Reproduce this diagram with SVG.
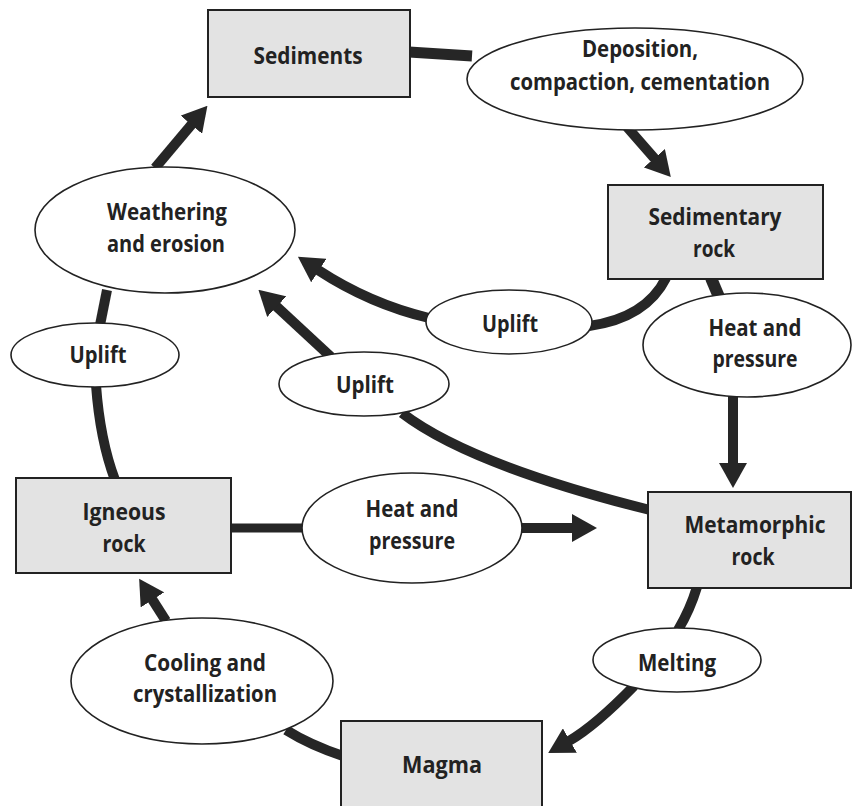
<svg xmlns="http://www.w3.org/2000/svg" width="852" height="806" viewBox="0 0 852 806">
<style>
.box{fill:#e3e3e3;stroke:#222;stroke-width:2}
.ell{fill:#fff;stroke:#222;stroke-width:1.6}
.t{font-family:"Open Sans","Noto Sans","Liberation Sans",sans-serif;font-weight:700;font-size:23px;fill:#222;text-anchor:middle}
.c{fill:none;stroke:#262626;stroke-width:10}
.a{fill:none;stroke:#262626;stroke-width:10;marker-end:url(#ah)}
</style>
<defs>
<marker id="ah" markerUnits="userSpaceOnUse" viewBox="0 0 25 28" markerWidth="25" markerHeight="28" refX="1" refY="14" orient="auto">
<path d="M0,0 L25,14 L0,28 Z" fill="#262626"/>
</marker>
</defs>
<rect width="852" height="806" fill="#fff"/>
<g id="connectors">
<path class="c" d="M409,52 L472,56" style="stroke-width:11"/>
<path class="a" d="M627,127 L655,159"/>
<path class="c" d="M666,278 Q646,318 589,326"/>
<path class="a" d="M429,318 Q370,304 318,270"/>
<path class="c" d="M711,278 L719,297" style="stroke-width:12"/>
<path class="a" d="M733,396 L733,464"/>
<path class="a" d="M155,168 L192,124"/>
<path class="c" d="M107,290 L100,325"/>
<path class="c" d="M96,385 Q100,440 115,480"/>
<path class="a" d="M331,357 L276,306"/>
<path class="c" d="M402,413 Q470,465 650,510"/>
<path class="c" d="M230,528 L304,528" style="stroke-width:9"/>
<path class="a" d="M520,528 L573,528"/>
<path class="c" d="M697,587 Q690,610 678,630"/>
<path class="a" d="M634,686 Q595,726 569,741"/>
<path class="c" d="M286,730 Q310,745 343,756"/>
<path class="a" d="M166,621 L152,599"/>
</g>
<g id="sediments">
<rect class="box" x="208" y="10" width="202" height="87"/>
<text class="t" x="308" y="64" textLength="109" lengthAdjust="spacingAndGlyphs">Sediments</text>
</g>
<g id="deposition">
<ellipse class="ell" cx="635" cy="79" rx="168" ry="51"/>
<text class="t"><tspan x="640" y="57" textLength="116" lengthAdjust="spacingAndGlyphs">Deposition,</tspan><tspan x="640" y="90" textLength="260" lengthAdjust="spacingAndGlyphs">compaction, cementation</tspan></text>
</g>
<g id="sedimentary-rock">
<rect class="box" x="608" y="185" width="215" height="94"/>
<text class="t"><tspan x="715" y="225" textLength="133" lengthAdjust="spacingAndGlyphs">Sedimentary</tspan><tspan x="714" y="257" textLength="42" lengthAdjust="spacingAndGlyphs">rock</tspan></text>
</g>
<g id="uplift-right">
<ellipse class="ell" cx="509" cy="322" rx="83" ry="32"/>
<text class="t" x="510" y="332" textLength="56" lengthAdjust="spacingAndGlyphs">Uplift</text>
</g>
<g id="heat-pressure-right">
<ellipse class="ell" cx="747" cy="345" rx="104" ry="52"/>
<text class="t"><tspan x="755" y="336" textLength="93" lengthAdjust="spacingAndGlyphs">Heat and</tspan><tspan x="755" y="367" textLength="85" lengthAdjust="spacingAndGlyphs">pressure</tspan></text>
</g>
<g id="weathering">
<ellipse class="ell" cx="165" cy="230" rx="130" ry="63"/>
<text class="t"><tspan x="167" y="220" textLength="120" lengthAdjust="spacingAndGlyphs">Weathering</tspan><tspan x="166" y="252" textLength="118" lengthAdjust="spacingAndGlyphs">and erosion</tspan></text>
</g>
<g id="uplift-left">
<ellipse class="ell" cx="95" cy="355" rx="84" ry="32"/>
<text class="t" x="98" y="363" textLength="57" lengthAdjust="spacingAndGlyphs">Uplift</text>
</g>
<g id="uplift-middle">
<ellipse class="ell" cx="364" cy="384" rx="85" ry="32"/>
<text class="t" x="365" y="393" textLength="58" lengthAdjust="spacingAndGlyphs">Uplift</text>
</g>
<g id="igneous-rock">
<rect class="box" x="16" y="478" width="215" height="95"/>
<text class="t"><tspan x="124" y="520" textLength="83" lengthAdjust="spacingAndGlyphs">Igneous</tspan><tspan x="124" y="552" textLength="43" lengthAdjust="spacingAndGlyphs">rock</tspan></text>
</g>
<g id="heat-pressure-bottom">
<ellipse class="ell" cx="412" cy="528" rx="110" ry="55"/>
<text class="t"><tspan x="412" y="517" textLength="93" lengthAdjust="spacingAndGlyphs">Heat and</tspan><tspan x="412" y="549" textLength="86" lengthAdjust="spacingAndGlyphs">pressure</tspan></text>
</g>
<g id="metamorphic-rock">
<rect class="box" x="648" y="492" width="203" height="96"/>
<text class="t"><tspan x="755" y="533" textLength="141" lengthAdjust="spacingAndGlyphs">Metamorphic</tspan><tspan x="753" y="565" textLength="43" lengthAdjust="spacingAndGlyphs">rock</tspan></text>
</g>
<g id="melting">
<ellipse class="ell" cx="677" cy="660" rx="84" ry="32"/>
<text class="t" x="677" y="671" textLength="78" lengthAdjust="spacingAndGlyphs">Melting</text>
</g>
<g id="magma">
<rect class="box" x="341" y="721" width="201" height="92"/>
<text class="t" x="442" y="773" textLength="80" lengthAdjust="spacingAndGlyphs">Magma</text>
</g>
<g id="cooling">
<ellipse class="ell" cx="202" cy="681" rx="131" ry="63"/>
<text class="t"><tspan x="205" y="671" textLength="122" lengthAdjust="spacingAndGlyphs">Cooling and</tspan><tspan x="205" y="702" textLength="144" lengthAdjust="spacingAndGlyphs">crystallization</tspan></text>
</g>
</svg>
